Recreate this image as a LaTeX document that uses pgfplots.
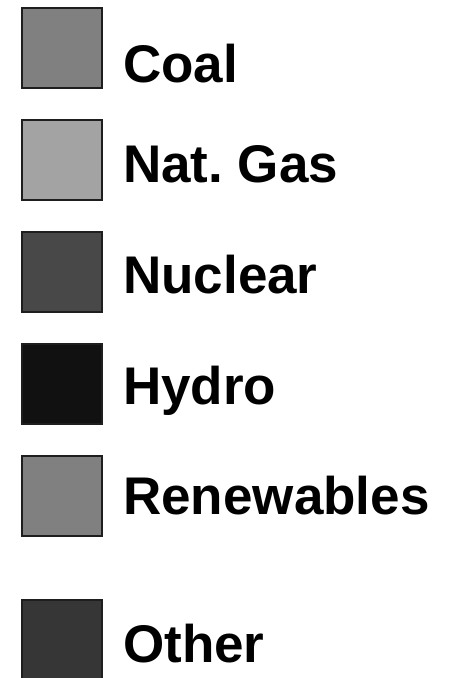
\documentclass[border=0pt]{standalone}
\usepackage{pgfplots}
\pgfplotsset{compat=1.18}
\usepackage{fontspec}
\setmainfont{Liberation Sans}
\definecolor{cCoal}{HTML}{808080}
\definecolor{cGas}{HTML}{A3A3A3}
\definecolor{cNuc}{HTML}{484848}
\definecolor{cHyd}{HTML}{111111}
\definecolor{cRen}{HTML}{808080}
\definecolor{cOth}{HTML}{363636}
\definecolor{edge}{HTML}{1E1E1E}
\frenchspacing
\begin{document}
\begin{tikzpicture}
\begin{axis}[
  at={(0,0)}, anchor=south west,
  scale only axis, width=456bp, height=678bp,
  xmin=0, xmax=456, ymin=0, ymax=678, y dir=reverse,
  hide axis, clip=true,
]
\addplot[fill=cCoal, draw=edge, line width=1.2bp] coordinates {(22,8) (102,8) (102,88) (22,88)} -- cycle;
\addplot[fill=cGas, draw=edge, line width=1.2bp] coordinates {(22,120) (102,120) (102,200) (22,200)} -- cycle;
\addplot[fill=cNuc, draw=edge, line width=1.2bp] coordinates {(22,232) (102,232) (102,312) (22,312)} -- cycle;
\addplot[fill=cHyd, draw=edge, line width=1.2bp] coordinates {(22,344) (102,344) (102,424) (22,424)} -- cycle;
\addplot[fill=cRen, draw=edge, line width=1.2bp] coordinates {(22,456) (102,456) (102,536) (22,536)} -- cycle;
\addplot[fill=cOth, draw=edge, line width=1.2bp] coordinates {(22,600) (102,600) (102,690) (22,690)} -- cycle;
\begin{scope}[every node/.style={anchor=base west, inner sep=0pt, font=\fontsize{53bp}{60bp}\selectfont\bfseries}]
\node at (axis cs:123,83) {Coal};
\node at (axis cs:123,182) {Nat.\ Gas};
\node at (axis cs:123,293) {Nuclear};
\node at (axis cs:123,404) {Hydro};
\node at (axis cs:123,514) {Renewables};
\node at (axis cs:123,662) {Other};
\end{scope}
\end{axis}
\pgfresetboundingbox
\path (0,0) rectangle (456bp,678bp);
\end{tikzpicture}
\end{document}
